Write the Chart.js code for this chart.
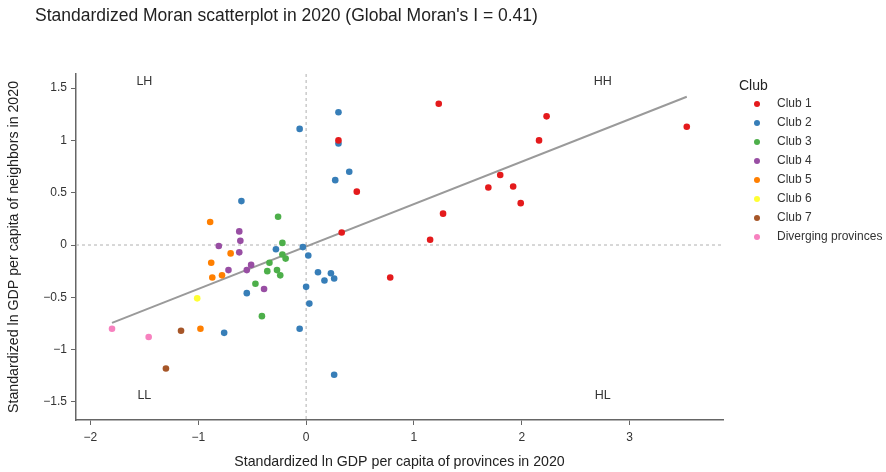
<!DOCTYPE html>
<html>
<head>
<meta charset="utf-8">
<title>Standardized Moran scatterplot</title>
<script src="https://cdn.jsdelivr.net/npm/chart.js@4.4.1/dist/chart.umd.min.js"></script>
<style>
  html, body { margin: 0; padding: 0; background: #fff; }
  #chart { display: block; }
</style>
</head>
<body>
<canvas id="chart" width="886" height="472"></canvas>
<script>
// ── Data ──────────────────────────────────────────
const clubNames = ['Club 1', 'Club 2', 'Club 3', 'Club 4', 'Club 5', 'Club 6', 'Club 7', 'Diverging provinces'];
const clubColors = ['#e41a1c', '#377eb8', '#4daf4a', '#984ea3', '#ff7f00', '#ffff33', '#a65628', '#f781bf'];

const club1X = [0.30, 0.47, 0.33, 1.23, 1.27, 1.15, 0.78, 1.69, 1.80, 1.92, 1.99, 2.16, 2.23, 3.53];
const club1Y = [1.00, 0.51, 0.12, 1.35, 0.30, 0.05, -0.31, 0.55, 0.67, 0.56, 0.40, 1.00, 1.23, 1.13];

const club2X = [-0.06, -0.60, -0.03, -0.28, 0.02, 0.11, -0.55, 0.00, 0.03, -0.06, -0.76, 0.23, 0.17, 0.26, 0.26, 0.30, 0.30, 0.40, 0.27];
const club2Y = [1.11, 0.42, -0.02, -0.04, -0.10, -0.26, -0.46, -0.40, -0.56, -0.80, -0.84, -0.27, -0.34, -0.32, -1.24, 1.27, 0.97, 0.70, 0.62];

const club3X = [-0.26, -0.22, -0.22, -0.19, -0.34, -0.36, -0.27, -0.24, -0.47, -0.41];
const club3Y = [0.27, 0.02, -0.09, -0.13, -0.17, -0.25, -0.24, -0.29, -0.37, -0.68];

const club4X = [-0.62, -0.61, -0.81, -0.62, -0.51, -0.72, -0.55, -0.39];
const club4Y = [0.13, 0.04, -0.01, -0.07, -0.19, -0.24, -0.24, -0.42];

const club5X = [-0.89, -0.70, -0.88, -0.78, -0.87, -0.98];
const club5Y = [0.22, -0.08, -0.17, -0.29, -0.31, -0.80];

const club6X = [-1.01];
const club6Y = [-0.51];

const club7X = [-1.16, -1.30];
const club7Y = [-0.82, -1.18];

const divergingX = [-1.80, -1.46];
const divergingY = [-0.80, -0.88];

// fitted line, slope = Moran's I
const fitX = [-1.80, 3.53];
const fitY = [-0.745, 1.418];

const xTicks = [-2, -1, 0, 1, 2, 3];
const yTicks = [-1.5, -1, -0.5, 0, 0.5, 1, 1.5];

const quadLabels = ['LH', 'HH', 'LL', 'HL'];
const quadX = [-1.5, 2.75, -1.5, 2.75];
const quadY = [1.56, 1.56, -1.44, -1.44];

const titleText = "Standardized Moran scatterplot in 2020 (Global Moran's I = 0.41)";
const FONT = '"Liberation Sans", Arial, Helvetica, sans-serif';

// ── Helpers ───────────────────────────────────────
function toPoints(xs, ys) {
  return xs.map((v, i) => ({ x: v, y: ys[i] }));
}

function fmtTick(v) {
  const s = String(v);
  return v < 0 ? '\u2212' + s.slice(1) : s;
}

// ── Decorations: zero lines, quadrant labels, legend, title ──
const decorPlugin = {
  id: 'decor',
  beforeDatasetsDraw(chart) {
    const { ctx, chartArea, scales } = chart;
    const x0 = scales.x.getPixelForValue(0);
    const y0 = scales.y.getPixelForValue(0);
    ctx.save();
    ctx.strokeStyle = '#b0b0b0';
    ctx.lineWidth = 1;
    ctx.setLineDash([3, 3]);
    ctx.beginPath();
    ctx.moveTo(x0, chartArea.top);
    ctx.lineTo(x0, chartArea.bottom);
    ctx.moveTo(chartArea.left, y0);
    ctx.lineTo(chartArea.right, y0);
    ctx.stroke();
    ctx.restore();
  },
  afterDraw(chart) {
    const { ctx, scales } = chart;
    ctx.save();

    // quadrant labels
    ctx.fillStyle = '#333';
    ctx.font = '12.5px ' + FONT;
    ctx.textAlign = 'center';
    ctx.textBaseline = 'middle';
    quadLabels.forEach((t, i) => {
      ctx.fillText(t, scales.x.getPixelForValue(quadX[i]), scales.y.getPixelForValue(quadY[i]));
    });

    // title
    ctx.textAlign = 'left';
    ctx.fillStyle = '#222';
    ctx.font = '17.5px ' + FONT;
    ctx.fillText(titleText, 35, 16);

    // legend
    ctx.font = '14px ' + FONT;
    ctx.fillText('Club', 739, 86);
    ctx.font = '12px ' + FONT;
    clubNames.forEach((name, i) => {
      const yy = 104 + i * 19;
      ctx.beginPath();
      ctx.fillStyle = clubColors[i];
      ctx.arc(757, yy, 3, 0, Math.PI * 2);
      ctx.fill();
      ctx.fillStyle = '#333';
      ctx.fillText(name, 777, yy);
    });

    ctx.restore();
  }
};

// ── Chart ─────────────────────────────────────────
function buildChart() {
  const ctx = document.getElementById('chart').getContext('2d');
  const seriesX = [club1X, club2X, club3X, club4X, club5X, club6X, club7X, divergingX];
  const seriesY = [club1Y, club2Y, club3Y, club4Y, club5Y, club6Y, club7Y, divergingY];

  const datasets = clubNames.map((name, i) => ({
    label: name,
    data: toPoints(seriesX[i], seriesY[i]),
    backgroundColor: clubColors[i],
    borderWidth: 0,
    pointRadius: 3.3,
    order: 1
  }));

  datasets.push({
    label: 'fit',
    data: toPoints(fitX, fitY),
    showLine: true,
    borderColor: '#9a9a9a',
    borderWidth: 2,
    pointRadius: 0,
    fill: false,
    order: 10
  });

  const axisLine = { display: true, color: '#666', width: 1.5 };
  const tickStyle = { color: '#333', font: { family: FONT, size: 12 } };

  new Chart(ctx, {
    type: 'scatter',
    data: { datasets: datasets },
    plugins: [decorPlugin],
    options: {
      responsive: false,
      animation: false,
      layout: { padding: { top: 74, right: 163, bottom: 0, left: 0 } },
      plugins: {
        legend: { display: false },
        tooltip: { enabled: false }
      },
      scales: {
        x: {
          type: 'linear',
          min: -2.134,
          max: 3.866,
          border: axisLine,
          grid: { drawOnChartArea: false, drawTicks: true, tickLength: 5, color: '#666' },
          afterBuildTicks: s => { s.ticks = xTicks.map(v => ({ value: v })); },
          afterFit: s => { s.height = 52; },
          ticks: Object.assign({ padding: 5, callback: v => fmtTick(v) }, tickStyle),
          title: {
            display: true,
            text: 'Standardized ln GDP per capita of provinces in 2020',
            color: '#222',
            font: { family: FONT, size: 14.2 },
            padding: { top: 0, bottom: 1 }
          }
        },
        y: {
          type: 'linear',
          min: -1.673,
          max: 1.635,
          border: axisLine,
          grid: { drawOnChartArea: false, drawTicks: true, tickLength: 5, color: '#666' },
          afterBuildTicks: s => { s.ticks = yTicks.map(v => ({ value: v })); },
          afterFit: s => { s.width = 76; },
          ticks: Object.assign({ padding: 4, callback: v => fmtTick(v) }, tickStyle),
          title: {
            display: true,
            text: 'Standardized ln GDP per capita of neighbors in 2020',
            color: '#222',
            font: { family: FONT, size: 14.2 },
            padding: { top: 6, bottom: 0 }
          }
        }
      }
    }
  });
}

// ── Start ─────────────────────────────────────────
window.onload = function() {
  buildChart();
};
</script>
</body>
</html>
